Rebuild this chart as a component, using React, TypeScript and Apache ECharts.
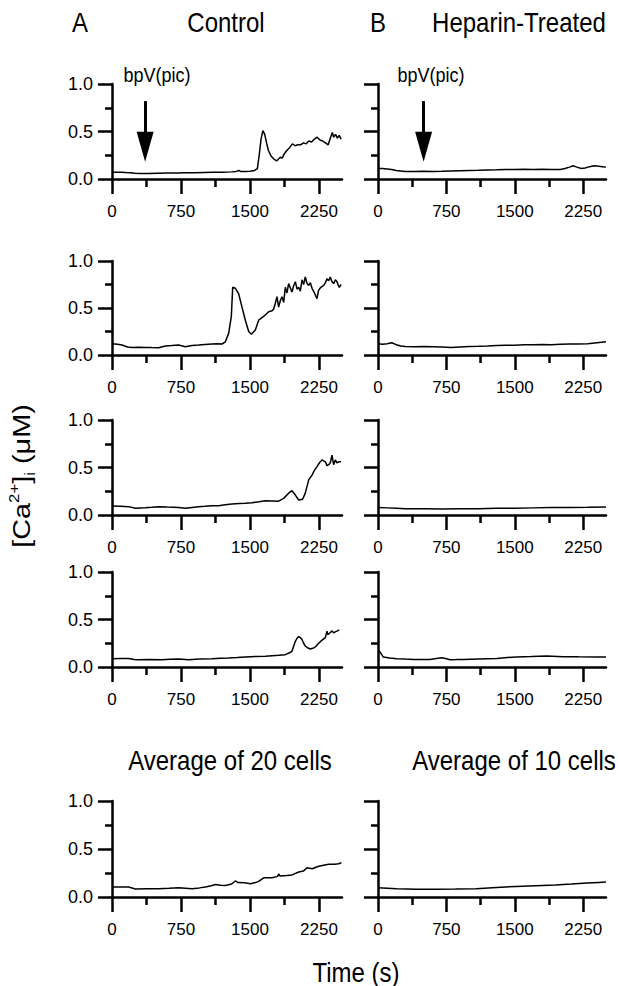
import React, { useEffect, useRef } from "react";
import * as echarts from "echarts";

// ---------- data ----------
const xMajorTicks = [0, 750, 1500, 2250];
const xMinorTicks = [375, 1125, 1875];
const timeMax = 2500;
const concMax = 1.0;

const controlCell1: [number, number][] = [
  [0, 0.07], [50, 0.07], [100, 0.072], [150, 0.068], [200, 0.065], [250, 0.06], [300, 0.058],
  [400, 0.058], [500, 0.06], [600, 0.062], [700, 0.063], [800, 0.065], [900, 0.066], [1000, 0.068],
  [1100, 0.07], [1200, 0.072], [1300, 0.075], [1350, 0.08], [1380, 0.09], [1400, 0.078], [1450, 0.08],
  [1500, 0.082], [1550, 0.09], [1580, 0.11], [1600, 0.25], [1620, 0.42], [1640, 0.51], [1660, 0.47],
  [1680, 0.38], [1700, 0.3], [1730, 0.24], [1760, 0.21], [1790, 0.19], [1810, 0.21], [1830, 0.23],
  [1850, 0.22], [1870, 0.26], [1900, 0.3], [1930, 0.33], [1960, 0.37], [1990, 0.35], [2020, 0.36],
  [2050, 0.36], [2080, 0.38], [2110, 0.37], [2140, 0.4], [2170, 0.39], [2200, 0.42], [2230, 0.44],
  [2260, 0.41], [2290, 0.4], [2320, 0.38], [2350, 0.36], [2370, 0.42], [2395, 0.49], [2410, 0.44],
  [2430, 0.47], [2450, 0.43], [2470, 0.46], [2490, 0.42],
];

const heparinCell1: [number, number][] = [
  [0, 0.11], [50, 0.11], [100, 0.105], [150, 0.1], [200, 0.09], [250, 0.085], [300, 0.08], [400, 0.08],
  [500, 0.082], [600, 0.08], [700, 0.082], [800, 0.085], [900, 0.088], [1000, 0.09], [1100, 0.092],
  [1200, 0.095], [1300, 0.097], [1400, 0.1], [1500, 0.1], [1600, 0.102], [1700, 0.1], [1800, 0.102],
  [1900, 0.1], [2000, 0.1], [2050, 0.11], [2100, 0.125], [2140, 0.14], [2180, 0.125], [2230, 0.11],
  [2270, 0.115], [2320, 0.13], [2370, 0.14], [2420, 0.135], [2460, 0.13], [2500, 0.125],
];

const controlCell2: [number, number][] = [
  [0, 0.12], [60, 0.115], [109, 0.106], [170, 0.085], [217, 0.08], [290, 0.082], [362, 0.08],
  [430, 0.079], [507, 0.078], [580, 0.095], [650, 0.1], [725, 0.106], [797, 0.088], [870, 0.1],
  [942, 0.106], [1010, 0.112], [1087, 0.117], [1140, 0.12], [1196, 0.117], [1232, 0.14], [1268, 0.23],
  [1297, 0.41], [1312, 0.72], [1341, 0.71], [1377, 0.65], [1413, 0.51], [1449, 0.37], [1486, 0.25],
  [1514, 0.22], [1558, 0.265], [1594, 0.37], [1648, 0.41], [1703, 0.46], [1740, 0.47], [1757, 0.49],
  [1775, 0.55], [1793, 0.62], [1811, 0.51], [1830, 0.58], [1848, 0.62], [1866, 0.56], [1884, 0.72],
  [1902, 0.66], [1920, 0.76], [1956, 0.67], [1975, 0.74], [1993, 0.78], [2011, 0.7], [2029, 0.72],
  [2047, 0.68], [2065, 0.8], [2083, 0.75], [2101, 0.83], [2120, 0.76], [2138, 0.74], [2156, 0.77],
  [2174, 0.71], [2200, 0.66], [2228, 0.6], [2246, 0.69], [2270, 0.72], [2301, 0.74], [2320, 0.77],
  [2337, 0.81], [2355, 0.79], [2373, 0.83], [2391, 0.78], [2409, 0.76], [2428, 0.8], [2446, 0.78],
  [2460, 0.74], [2471, 0.72], [2490, 0.75],
];

const heparinCell2: [number, number][] = [
  [0, 0.12], [50, 0.115], [100, 0.12], [150, 0.13], [200, 0.11], [250, 0.095], [300, 0.09], [400, 0.088],
  [500, 0.09], [600, 0.088], [700, 0.085], [800, 0.08], [900, 0.085], [1000, 0.09], [1100, 0.092],
  [1200, 0.095], [1300, 0.1], [1400, 0.105], [1500, 0.105], [1600, 0.108], [1700, 0.11], [1800, 0.112],
  [1900, 0.11], [2000, 0.115], [2100, 0.118], [2200, 0.118], [2300, 0.12], [2400, 0.13], [2500, 0.14],
];

const controlCell3: [number, number][] = [
  [0, 0.095], [90, 0.092], [181, 0.088], [254, 0.07], [362, 0.077], [430, 0.082], [507, 0.088],
  [600, 0.083], [725, 0.08], [797, 0.07], [870, 0.08], [942, 0.088], [1010, 0.092], [1087, 0.098],
  [1159, 0.098], [1230, 0.108], [1304, 0.116], [1380, 0.12], [1449, 0.123], [1522, 0.13], [1600, 0.14],
  [1667, 0.15], [1740, 0.148], [1811, 0.146], [1866, 0.175], [1920, 0.23], [1956, 0.256], [1993, 0.21],
  [2029, 0.158], [2072, 0.165], [2101, 0.23], [2138, 0.37], [2174, 0.42], [2200, 0.47], [2228, 0.51],
  [2255, 0.55], [2282, 0.58], [2300, 0.57], [2319, 0.56], [2337, 0.52], [2355, 0.53], [2373, 0.55],
  [2391, 0.63], [2409, 0.53], [2427, 0.58], [2445, 0.55], [2464, 0.56], [2490, 0.56],
];

const heparinCell3: [number, number][] = [
  [0, 0.08], [100, 0.075], [200, 0.07], [300, 0.065], [500, 0.065], [700, 0.063], [900, 0.065],
  [1100, 0.067], [1300, 0.07], [1500, 0.072], [1700, 0.075], [1900, 0.078], [2100, 0.08],
  [2300, 0.082], [2500, 0.085],
];

const controlCell4: [number, number][] = [
  [0, 0.088], [90, 0.09], [181, 0.09], [240, 0.08], [290, 0.077], [400, 0.078], [543, 0.077],
  [630, 0.082], [725, 0.085], [833, 0.077], [950, 0.083], [1087, 0.088], [1180, 0.092], [1268, 0.095],
  [1360, 0.1], [1449, 0.106], [1560, 0.11], [1667, 0.113], [1740, 0.118], [1811, 0.123], [1884, 0.13],
  [1930, 0.15], [1956, 0.165], [1975, 0.22], [1993, 0.27], [2010, 0.3], [2029, 0.32], [2047, 0.31],
  [2065, 0.29], [2083, 0.25], [2101, 0.22], [2130, 0.2], [2156, 0.19], [2192, 0.2], [2220, 0.22],
  [2246, 0.25], [2280, 0.28], [2319, 0.31], [2337, 0.377], [2346, 0.34], [2370, 0.36], [2391, 0.38],
  [2410, 0.36], [2427, 0.37], [2450, 0.38], [2471, 0.39],
];

const heparinCell4: [number, number][] = [
  [0, 0.175], [22, 0.16], [58, 0.105], [130, 0.095], [205, 0.088], [300, 0.083], [387, 0.08],
  [480, 0.08], [570, 0.08], [640, 0.09], [698, 0.098], [740, 0.09], [790, 0.077], [860, 0.078],
  [936, 0.08], [1100, 0.085], [1302, 0.09], [1420, 0.1], [1521, 0.105], [1680, 0.11], [1850, 0.116],
  [2032, 0.109], [2200, 0.107], [2398, 0.105], [2500, 0.105],
];

const controlAverage: [number, number][] = [
  [0, 0.104], [100, 0.104], [181, 0.104], [254, 0.083], [380, 0.085], [507, 0.087], [620, 0.092],
  [725, 0.097], [870, 0.087], [950, 0.095], [1015, 0.104], [1080, 0.118], [1123, 0.13], [1180, 0.122],
  [1232, 0.12], [1300, 0.135], [1341, 0.167], [1370, 0.15], [1440, 0.148], [1505, 0.139], [1560, 0.15],
  [1594, 0.163], [1649, 0.2], [1700, 0.2], [1740, 0.2], [1800, 0.215], [1812, 0.24], [1825, 0.22],
  [1900, 0.225], [1957, 0.23], [2030, 0.26], [2080, 0.27], [2120, 0.305], [2175, 0.295], [2247, 0.32],
  [2300, 0.33], [2355, 0.34], [2420, 0.342], [2464, 0.347], [2493, 0.357],
];

const heparinAverage: [number, number][] = [
  [0, 0.097], [100, 0.092], [206, 0.087], [420, 0.082], [641, 0.08], [850, 0.083], [1077, 0.087],
  [1300, 0.1], [1512, 0.11], [1730, 0.118], [1947, 0.125], [2120, 0.135], [2295, 0.146], [2420, 0.152],
  [2500, 0.156],
];

const columnTitles = ["Control", "Heparin-Treated"];
const columnLetters = ["A", "B"];
const averageTitles = ["Average of 20 cells", "Average of 10 cells"];
const stimulusLabel = "bpV(pic)";
const stimulusTimes = [360, 500]; // s, arrow position for control / heparin
const xAxisTitle = "Time (s)";

// ---------- layout ----------
const FONT = "'Liberation Sans', Arial, Helvetica, sans-serif";
const COLS = [
  { left: 112, width: 230 },
  { left: 378, width: 228 },
];
const ROWS = [
  { top: 84, height: 95 },
  { top: 261, height: 94 },
  { top: 420, height: 95 },
  { top: 572, height: 95 },
  { top: 801, height: 96 },
];

const panels = [
  { data: controlCell1, col: 0, row: 0, arrow: 0 },
  { data: heparinCell1, col: 1, row: 0, arrow: 1 },
  { data: controlCell2, col: 0, row: 1 },
  { data: heparinCell2, col: 1, row: 1 },
  { data: controlCell3, col: 0, row: 2 },
  { data: heparinCell3, col: 1, row: 2 },
  { data: controlCell4, col: 0, row: 3 },
  { data: heparinCell4, col: 1, row: 3 },
  { data: controlAverage, col: 0, row: 4 },
  { data: heparinAverage, col: 1, row: 4 },
] as { data: [number, number][]; col: number; row: number; arrow?: number }[];

const AX = { color: "#000", width: 2.5 };

function buildOption() {
  const grid: any[] = [];
  const xAxis: any[] = [];
  const yAxis: any[] = [];
  const series: any[] = [];

  panels.forEach((p, i) => {
    grid.push({
      left: COLS[p.col].left,
      width: COLS[p.col].width,
      top: ROWS[p.row].top,
      height: ROWS[p.row].height,
    });
    xAxis.push({
      type: "value",
      gridIndex: i,
      min: 0,
      max: timeMax,
      position: "bottom",
      axisLine: { show: true, lineStyle: AX },
      splitLine: { show: false },
      axisTick: { show: true, customValues: xMajorTicks, length: 15, lineStyle: AX },
      axisLabel: {
        show: true,
        customValues: xMajorTicks,
        margin: 24,
        fontSize: 17,
        fontFamily: FONT,
        color: "#000",
        formatter: (v: number) => String(v),
      },
    });
    xAxis.push({
      type: "value",
      gridIndex: i,
      min: 0,
      max: timeMax,
      position: "bottom",
      offset: 0,
      axisLine: { show: false },
      splitLine: { show: false },
      axisTick: { show: true, customValues: xMinorTicks, length: 8, lineStyle: AX },
      axisLabel: { show: false },
    });
    yAxis.push({
      type: "value",
      gridIndex: i,
      min: 0,
      max: concMax,
      interval: 0.5,
      axisLine: { show: true, lineStyle: AX },
      axisTick: { show: true, length: 14, lineStyle: AX },
      minorTick: { show: true, splitNumber: 2, length: 7, lineStyle: AX },
      splitLine: { show: false },
      minorSplitLine: { show: false },
      axisLabel: {
        show: p.col === 0,
        margin: 19,
        fontSize: 18,
        fontFamily: FONT,
        color: "#000",
        formatter: (v: number) => v.toFixed(1),
      },
    });
    const s: any = {
      type: "line",
      xAxisIndex: 2 * i,
      yAxisIndex: i,
      data: p.data,
      symbol: "none",
      showSymbol: false,
      silent: true,
      lineStyle: { color: "#000", width: 1.5 },
    };
    if (p.arrow !== undefined) {
      const t = stimulusTimes[p.arrow];
      s.markLine = {
        silent: true,
        symbol: ["none", "triangle"],
        symbolSize: [17, 30],
        label: { show: false },
        lineStyle: { color: "#000", width: 3, type: "solid" },
        itemStyle: { color: "#000" },
        emphasis: { disabled: true },
        data: [[{ coord: [t, 0.82] }, { coord: [t, 0.34] }]],
      };
    }
    series.push(s);
  });

  const txt = (text: string, x: number, y: number, size: number, extra: any = {}) => ({
    type: "text",
    x,
    y,
    scaleY: 1.15,
    silent: true,
    style: {
      text,
      fontSize: size,
      fontFamily: FONT,
      fill: "#000",
      align: "center",
      verticalAlign: "middle",
    },
    ...extra,
  });

  const graphic: any[] = [
    txt(columnLetters[0], 80, 22, 24),
    txt(columnTitles[0], 226, 22, 24),
    txt(columnLetters[1], 378, 22, 24),
    txt(columnTitles[1], 519, 22, 24),
    txt(stimulusLabel, 157, 75, 18),
    txt(stimulusLabel, 431, 75, 18),
    txt(averageTitles[0], 230, 760, 24),
    txt(averageTitles[1], 514, 760, 24),
    txt(xAxisTitle, 356, 972, 24),
    {
      type: "text",
      x: 22,
      y: 476,
      rotation: Math.PI / 2,
      scaleX: 1.2,
      silent: true,
      style: {
        text: "{m|[Ca}{sup|2+}{m|]}{sub|i}{m| (μM)}",
        fontFamily: FONT,
        fill: "#000",
        align: "center",
        verticalAlign: "middle",
        rich: {
          m: { fontSize: 24, lineHeight: 30, fontFamily: FONT, fill: "#000" },
          sup: { fontSize: 14, lineHeight: 14, verticalAlign: "top", fontFamily: FONT, fill: "#000" },
          sub: { fontSize: 14, lineHeight: 14, verticalAlign: "bottom", fontFamily: FONT, fill: "#000" },
        },
      },
    },
  ];

  return {
    animation: false,
    backgroundColor: "#fff",
    grid,
    xAxis,
    yAxis,
    series,
    graphic,
  };
}

export default function App() {
  const ref = useRef<HTMLDivElement>(null);
  useEffect(() => {
    if (!ref.current) return;
    const chart = echarts.init(ref.current, undefined, { renderer: "svg" });
    chart.setOption(buildOption() as any);
    return () => chart.dispose();
  }, []);
  return (
    <div
      ref={ref}
      style={{ position: "fixed", left: 0, top: 0, width: 618, height: 986, background: "#fff" }}
    />
  );
}
